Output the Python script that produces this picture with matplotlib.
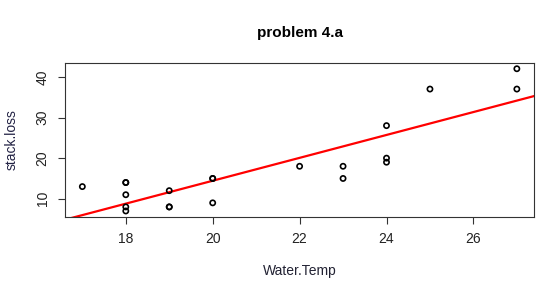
import numpy as np
import matplotlib
matplotlib.use("Agg")
import matplotlib.pyplot as plt

# stackloss data: Water.Temp vs stack.loss
water_temp = [27, 27, 25, 24, 22, 23, 24, 24, 23, 18, 18, 17, 18, 19, 18, 18, 19, 19, 20, 20, 20]
stack_loss = [42, 37, 37, 28, 18, 18, 19, 20, 15, 14, 14, 13, 11, 12, 8, 7, 8, 8, 9, 15, 15]

slope, intercept = np.polyfit(water_temp, stack_loss, 1)

plt.rcParams['font.family'] = ['Liberation Sans', 'DejaVu Sans']
fig = plt.figure(figsize=(5.6, 2.96), dpi=100)
ax = fig.add_axes([0.116, 0.268, 0.838, 0.519])

ax.scatter(water_temp, stack_loss, s=14, facecolors='none', edgecolors='black', linewidths=1.2, zorder=3)

ax.set_xlim(16.6, 27.4)
ax.set_ylim(5.6, 43.4)
xs = np.array(ax.get_xlim())
ax.plot(xs, intercept + slope * xs, color='red', lw=1.6, zorder=2)

ax.set_xticks([18, 20, 22, 24, 26])
ax.set_yticks([10, 20, 30, 40])
ax.tick_params(labelsize=10, length=5, color='#333333', labelcolor='#222222', pad=6)
for lab in ax.get_yticklabels():
    lab.set_rotation(90)
    lab.set_va('center')
for sp in ax.spines.values():
    sp.set_color('#333333')

ax.set_xlabel('Water.Temp', fontsize=10, color='#222233', labelpad=13)
ax.set_ylabel('stack.loss', fontsize=10, color='#222244', labelpad=12)
fig.text(0.535, 0.888, 'problem 4.a', ha='center', va='center', fontsize=11, fontweight='bold')

fig.savefig('out.png', dpi=100)
